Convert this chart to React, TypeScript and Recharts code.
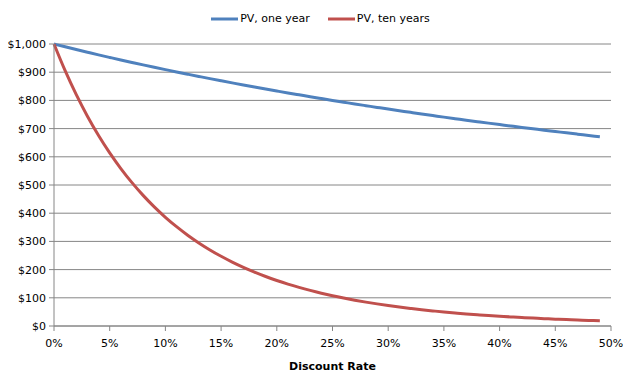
import { LineChart, Line, XAxis, YAxis, CartesianGrid, Legend } from "recharts";

const rates = [
  0, 1, 2, 3, 4, 5, 6, 7, 8, 9, 10, 11, 12, 13, 14, 15, 16, 17, 18, 19, 20, 21, 22, 23, 24,
  25, 26, 27, 28, 29, 30, 31, 32, 33, 34, 35, 36, 37, 38, 39, 40, 41, 42, 43, 44, 45, 46, 47, 48, 49,
];

const pvOneYear = [
  1000, 990.1, 980.4, 970.9, 961.5, 952.4, 943.4, 934.6, 925.9, 917.4, 909.1, 900.9, 892.9, 885.0,
  877.2, 869.6, 862.1, 854.7, 847.5, 840.3, 833.3, 826.4, 819.7, 813.0, 806.5, 800.0, 793.7, 787.4,
  781.3, 775.2, 769.2, 763.4, 757.6, 751.9, 746.3, 740.7, 735.3, 729.9, 724.6, 719.4, 714.3, 709.2,
  704.2, 699.3, 694.4, 689.7, 684.9, 680.3, 675.7, 671.1,
];

const pvTenYears = [
  1000, 905.3, 820.3, 744.1, 675.6, 613.9, 558.4, 508.3, 463.2, 422.4, 385.5, 352.2, 322.0, 294.6,
  269.7, 247.2, 226.7, 208.0, 191.1, 175.6, 161.5, 148.6, 136.9, 126.2, 116.4, 107.4, 99.2, 91.6,
  84.7, 78.4, 72.5, 67.2, 62.3, 57.7, 53.6, 49.7, 46.2, 42.9, 39.9, 37.1, 34.6, 32.2, 30.0, 28.0,
  26.1, 24.3, 22.7, 21.2, 19.8, 18.5,
];

const xTicks = [0, 5, 10, 15, 20, 25, 30, 35, 40, 45, 50];
const yTicks = [0, 100, 200, 300, 400, 500, 600, 700, 800, 900, 1000];

const series = [
  { key: "one", name: "PV, one year", color: "#4F81BD", values: pvOneYear },
  { key: "ten", name: "PV, ten years", color: "#C0504D", values: pvTenYears },
];

const data = rates.map((r, i) => ({ rate: r, one: pvOneYear[i], ten: pvTenYears[i] }));

const FONT = "'DejaVu Sans', sans-serif";
const GRID = "#868686";

function LegendBox() {
  return (
    <div style={{ display: "flex", justifyContent: "center", paddingLeft: 10, fontFamily: FONT, fontSize: 11, color: "#000" }}>
      {series.map((s, i) => (
        <div key={s.key} style={{ display: "flex", alignItems: "center", marginLeft: i ? 18 : 0 }}>
          <svg width={27} height={4} style={{ marginRight: 2 }}>
            <line x1={0} y1={2} x2={27} y2={2} stroke={s.color} strokeWidth={3} />
          </svg>
          <span>{s.name}</span>
        </div>
      ))}
    </div>
  );
}

const fmtMoney = (v: number) => "$" + v.toLocaleString("en-US");

export default function App() {
  return (
    <div style={{ margin: -8, background: "#fff", width: 631, height: 379 }}>
      <LineChart width={631} height={379} data={data} margin={{ top: 31, right: 20, bottom: 9, left: 0 }}>
        <CartesianGrid vertical={false} stroke={GRID} />
        <XAxis
          dataKey="rate"
          type="number"
          domain={[0, 50]}
          ticks={xTicks}
          tickFormatter={(v: number) => `${v}%`}
          stroke={GRID}
          tickSize={5}
          tickMargin={8}
          height={44}
          tick={{ fill: "#000", fontSize: 11, fontFamily: FONT }}
          label={{
            value: "Discount Rate",
            position: "insideBottom",
            offset: 0,
            style: { fill: "#000", fontSize: 11, fontWeight: "bold", fontFamily: FONT },
          }}
        />
        <YAxis
          domain={[0, 1000]}
          ticks={yTicks}
          tickFormatter={fmtMoney}
          stroke={GRID}
          width={54}
          tickSize={5}
          tickMargin={3}
          tick={{ fill: "#000", fontSize: 11, fontFamily: FONT }}
        />
        <Legend verticalAlign="top" align="center" content={() => <LegendBox />} wrapperStyle={{ top: 12, left: 0, width: 631 }} />
        {series.map((s) => (
          <Line
            key={s.key}
            type="monotone"
            dataKey={s.key}
            name={s.name}
            stroke={s.color}
            strokeWidth={3}
            dot={false}
            isAnimationActive={false}
          />
        ))}
      </LineChart>
    </div>
  );
}
